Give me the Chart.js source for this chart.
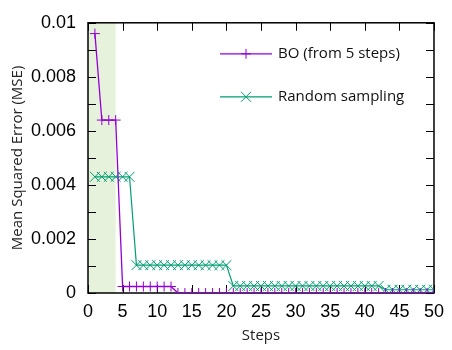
<!DOCTYPE html>
<html>
<head>
<meta charset="utf-8">
<script src="https://cdn.jsdelivr.net/npm/chart.js@4/dist/chart.umd.min.js"></script>
<style>
  html, body { margin: 0; padding: 0; background: #fff; }
  #wrap { width: 452px; height: 350px; }
</style>
</head>
<body>
<div id="wrap"><canvas id="mseChart"></canvas></div>
<script>
// steps of the optimisation run
const steps = [1, 2, 3, 4, 5, 6, 7, 8, 9, 10, 11, 12, 13, 14, 15, 16, 17, 18, 19, 20,
               21, 22, 23, 24, 25, 26, 27, 28, 29, 30, 31, 32, 33, 34, 35, 36, 37, 38, 39, 40,
               41, 42, 43, 44, 45, 46, 47, 48, 49, 50];

// best MSE so far, BO started after 5 initial steps
const boMse = [0.0096, 0.0064, 0.0064, 0.0064, 0.00024, 0.00024, 0.00024, 0.00024, 0.00024, 0.00024,
               0.00024, 0.00024, 0, 0, 0, 0, 0, 0, 0, 0,
               0, 0, 0, 0, 0, 0, 0, 0, 0, 0,
               0, 0, 0, 0, 0, 0, 0, 0, 0, 0,
               0, 0, 0, 0, 0, 0, 0, 0, 0, 0];

// best MSE so far, random sampling
const randomMse = [0.0043, 0.0043, 0.0043, 0.0043, 0.0043, 0.0043, 0.00103, 0.00103, 0.00103, 0.00103,
                   0.00103, 0.00103, 0.00103, 0.00103, 0.00103, 0.00103, 0.00103, 0.00103, 0.00103, 0.00103,
                   0.00026, 0.00026, 0.00026, 0.00026, 0.00026, 0.00026, 0.00026, 0.00026, 0.00026, 0.00026,
                   0.00026, 0.00026, 0.00026, 0.00026, 0.00026, 0.00026, 0.00026, 0.00026, 0.00026, 0.00026,
                   0.00026, 0.00026, 0.00012, 0.00012, 0.00012, 0.00012, 0.00012, 0.00012, 0.00012, 0.00012];

const seriesNames = ['BO (from 5 steps)', 'Random sampling'];
const initPhase = [0, 4];  // initial sampling steps (shaded)

const numFont = { family: 'Liberation Sans', size: 18 };
const textFont = 'Open Sans';

// shaded initial phase + frame with inward ticks
const framePlugin = {
    id: 'frame',
    beforeDatasetsDraw(chart) {
        const { ctx, chartArea: a, scales: { x, y } } = chart;
        ctx.save();
        ctx.fillStyle = '#e7f2dc';
        const x0 = x.getPixelForValue(initPhase[0]);
        const x1 = x.getPixelForValue(initPhase[1]);
        ctx.fillRect(x0, a.top, x1 - x0, a.bottom - a.top);

        ctx.strokeStyle = '#000';
        ctx.lineWidth = 1.5;
        ctx.strokeRect(a.left, a.top, a.right - a.left, a.bottom - a.top);

        ctx.lineWidth = 1;
        ctx.beginPath();
        const len = 8;
        x.ticks.forEach(t => {
            const px = Math.round(x.getPixelForValue(t.value)) + 0.5;
            ctx.moveTo(px, a.bottom); ctx.lineTo(px, a.bottom - len);
            ctx.moveTo(px, a.top); ctx.lineTo(px, a.top + len);
        });
        y.ticks.forEach(t => {
            const py = Math.round(y.getPixelForValue(t.value)) + 0.5;
            ctx.moveTo(a.left, py); ctx.lineTo(a.left + len, py);
            ctx.moveTo(a.right, py); ctx.lineTo(a.right - len, py);
        });
        ctx.stroke();
        ctx.restore();
    }
};

// legend inside the plot, gnuplot style
const keyPlugin = {
    id: 'key',
    afterDraw(chart) {
        const { ctx, chartArea: a } = chart;
        ctx.save();
        chart.data.datasets.forEach((ds, i) => {
            const yy = a.top + 31 + i * 43;
            const xs = 220, xe = 272, xm = (xs + xe) / 2;
            ctx.strokeStyle = ds.borderColor;
            ctx.lineWidth = ds.borderWidth;
            ctx.beginPath();
            ctx.moveTo(xs, yy); ctx.lineTo(xe, yy);
            ctx.stroke();
            ctx.lineWidth = 1;
            ctx.beginPath();
            const r = 5;
            if (ds.pointStyle === 'cross') {
                ctx.moveTo(xm, yy - r); ctx.lineTo(xm, yy + r);
                ctx.moveTo(xm - r, yy); ctx.lineTo(xm + r, yy);
            } else {
                ctx.moveTo(xm - r, yy - r); ctx.lineTo(xm + r, yy + r);
                ctx.moveTo(xm - r, yy + r); ctx.lineTo(xm + r, yy - r);
            }
            ctx.stroke();
            ctx.fillStyle = '#111';
            ctx.font = '15px "' + textFont + '"';
            ctx.textAlign = 'left';
            ctx.textBaseline = 'middle';
            ctx.fillText(ds.label, 278, yy);
        });
        ctx.restore();
    }
};

const ctx = document.getElementById('mseChart').getContext('2d');

const mseChart = new Chart(ctx, {
    type: 'line',
    data: {
        labels: steps,
        datasets: [{
            label: seriesNames[0],
            data: steps.map((s, i) => ({ x: s, y: boMse[i] })),
            borderColor: '#9400d3',
            backgroundColor: '#9400d3',
            borderWidth: 1.3,
            pointStyle: 'cross',
            pointRadius: 5,
            pointBorderWidth: 1,
            tension: 0
        }, {
            label: seriesNames[1],
            data: steps.map((s, i) => ({ x: s, y: randomMse[i] })),
            borderColor: '#009e73',
            backgroundColor: '#009e73',
            borderWidth: 1.2,
            pointStyle: 'crossRot',
            pointRadius: 7,
            pointBorderWidth: 1,
            tension: 0
        }]
    },
    options: {
        responsive: true,
        maintainAspectRatio: false,
        animation: false,
        layout: { padding: { top: 13, right: 13, left: 0, bottom: 0 } },
        plugins: {
            legend: { display: false },
            tooltip: { enabled: false }
        },
        scales: {
            x: {
                type: 'linear',
                min: 0,
                max: 50,
                grid: { display: false, drawTicks: false },
                border: { display: false },
                ticks: { stepSize: 5, color: '#000', font: numFont, padding: 8, maxRotation: 0 },
                title: {
                    display: true,
                    text: 'Steps',
                    color: '#222',
                    font: { family: textFont, size: 15 },
                    padding: { top: 4, bottom: 5 }
                },
                afterFit: s => { s.height = 57; }
            },
            y: {
                min: 0,
                max: 0.01,
                grid: { display: false, drawTicks: false },
                border: { display: false },
                ticks: {
                    stepSize: 0.001,
                    color: '#000',
                    font: numFont,
                    padding: 12,
                    callback: v => (Math.round(v * 1000) % 2 === 0 ? String(+v.toFixed(3)) : '')
                },
                title: {
                    display: true,
                    text: 'Mean Squared Error (MSE)',
                    color: '#222',
                    font: { family: textFont, size: 15 },
                    padding: { top: 9, bottom: 0 }
                },
                afterFit: s => { s.width = 88; }
            }
        }
    },
    plugins: [framePlugin, keyPlugin]
});
</script>
</body>
</html>
